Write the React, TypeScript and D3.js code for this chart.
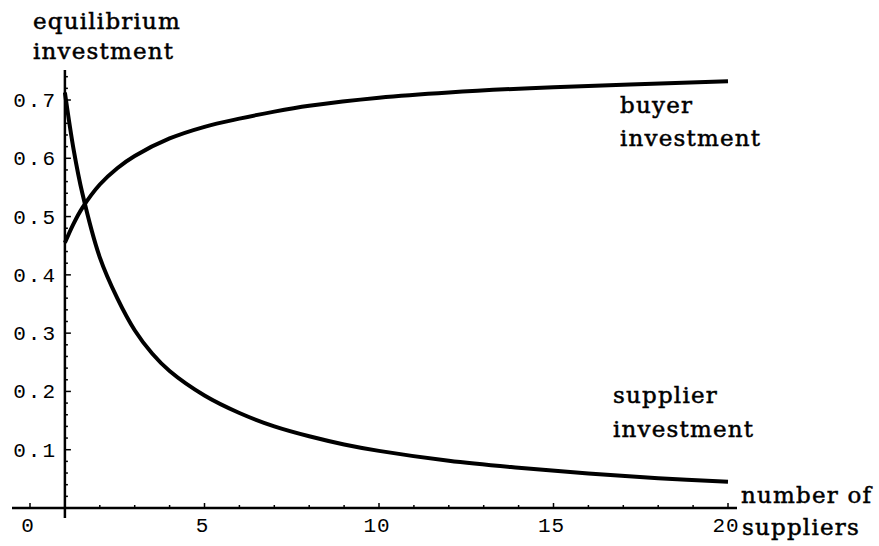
import React from "react";
import * as d3 from "d3";

const supplierN = [1, 1.25, 1.5, 2, 2.5, 3, 3.5, 4, 5, 6, 7, 8, 9, 10, 12, 14, 16, 18, 20];
const supplierV = [0.713, 0.615, 0.54, 0.43, 0.36, 0.305, 0.265, 0.235, 0.193, 0.163, 0.14, 0.123, 0.109, 0.098, 0.081, 0.069, 0.059, 0.051, 0.045];
const buyerN = [1, 1.25, 1.5, 2, 2.5, 3, 4, 5, 6, 7, 8, 10, 12, 15, 20];
const buyerV = [0.455, 0.488, 0.515, 0.555, 0.583, 0.604, 0.634, 0.654, 0.668, 0.68, 0.69, 0.704, 0.713, 0.722, 0.732];
const xTickLabels = [0, 5, 10, 15, 20];
const yTickLabels = [0.1, 0.2, 0.3, 0.4, 0.5, 0.6, 0.7];

const W = 879;
const H = 546;

export default function App() {
  const x = d3.scaleLinear().domain([0, 20]).range([30, 728]);
  const y = d3.scaleLinear().domain([0, 0.7]).range([508, 100]);
  const x0 = x(1);
  const y0 = y(0);

  const line = d3
    .line<[number, number]>()
    .x((d) => x(d[0]))
    .y((d) => y(d[1]))
    .curve(d3.curveCatmullRom.alpha(0.5));

  const supplier = supplierN.map((n, i) => [n, supplierV[i]] as [number, number]);
  const buyer = buyerN.map((n, i) => [n, buyerV[i]] as [number, number]);

  const xMinor = d3.range(0, 21, 1);
  const yMinor = d3.range(0, 0.741, 0.02);

  const mono = "'Liberation Mono', 'DejaVu Sans Mono', monospace";
  const serif = "'DejaVu Serif', 'Liberation Serif', serif";

  return (
    <svg width={W} height={H} style={{ position: "absolute", left: 0, top: 0, background: "#fff" }}>
      {/* axes */}
      <line x1={12} x2={737} y1={y0} y2={y0} stroke="#000" strokeWidth={2.5} />
      <line x1={x0} x2={x0} y1={70} y2={518} stroke="#000" strokeWidth={2.5} />
      {/* x ticks */}
      {xMinor.map((v) => {
        const major = v % 5 === 0;
        return (
          <line key={"xt" + v} x1={x(v)} x2={x(v)} y1={y0} y2={y0 - (major ? 5 : 3)} stroke="#000" strokeWidth={1.5} />
        );
      })}
      {/* y ticks */}
      {yMinor.map((v, i) => {
        const major = i % 5 === 0;
        return (
          <line key={"yt" + i} x1={x0} x2={x0 + (major ? 6 : 3)} y1={y(v)} y2={y(v)} stroke="#000" strokeWidth={1.5} />
        );
      })}
      {/* x tick labels */}
      {xTickLabels.map((v) => (
        <text key={"xl" + v} x={x(v) - 2} y={532} textAnchor="middle" fontFamily={mono} fontSize={21} letterSpacing={1}>
          {v}
        </text>
      ))}
      {/* y tick labels */}
      {yTickLabels.map((v) => (
        <text key={"yl" + v} x={57} y={y(v) + 7} textAnchor="end" fontFamily={mono} fontSize={21} letterSpacing={2}>
          {v.toFixed(1)}
        </text>
      ))}
      {/* curves */}
      <path d={line(supplier) || ""} fill="none" stroke="#000" strokeWidth={4} />
      <path d={line(buyer) || ""} fill="none" stroke="#000" strokeWidth={4} />
      {/* labels */}
      <g fontFamily={serif} fontSize={23} letterSpacing={1.2} fill="#000" stroke="#000" strokeWidth={0.5}>
        <text x={33} y={29}>equilibrium</text>
        <text x={33} y={59}>investment</text>
        <text x={620} y={113}>buyer</text>
        <text x={620} y={146}>investment</text>
        <text x={613} y={403}>supplier</text>
        <text x={613} y={437}>investment</text>
        <text x={741} y={503}>number of</text>
        <text x={742} y={535}>suppliers</text>
      </g>
    </svg>
  );
}
